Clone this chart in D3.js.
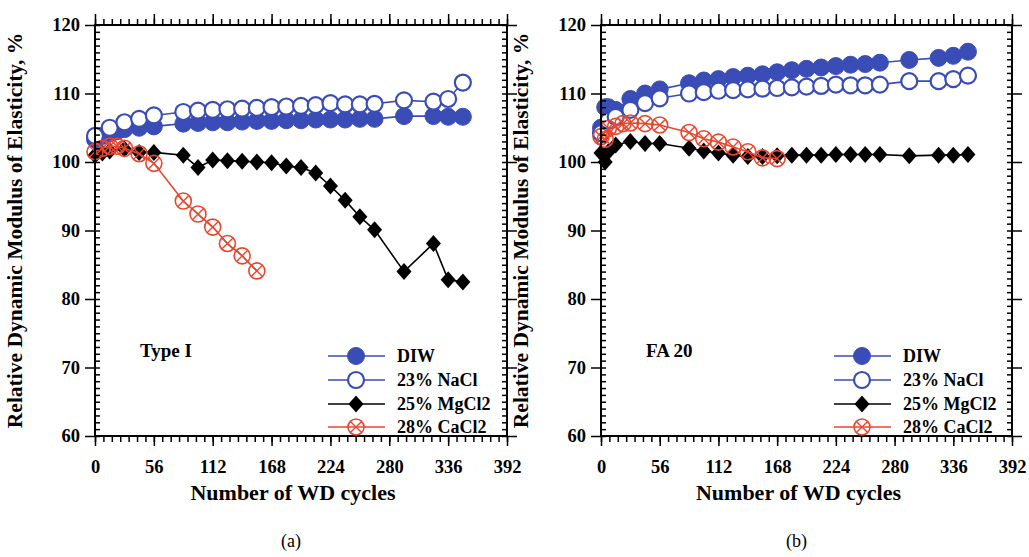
<!DOCTYPE html>
<html><head><meta charset="utf-8">
<script src="https://cdn.jsdelivr.net/npm/d3@7"></script>
<style>
body{margin:0;background:#fff;}
svg{display:block;font-family:"Liberation Serif","Times New Roman",serif;}
</style></head>
<body>
<svg id="chart" width="1029" height="557"></svg>
<script>
// ---------------- DATA ----------------
const seriesNames = ["DIW", "23% NaCl", "25% MgCl2", "28% CaCl2"];
const xMajorTicks = [0, 56, 112, 168, 224, 280, 336, 392];
const yMajorTicks = [60, 70, 80, 90, 100, 110, 120];
const panelTitles = ["Type I", "FA 20"];
const panelLabels = ["(a)", "(b)"];

// Panel (a) Type I
const a_DIW_x = [0,7,14,21,28,42,56,84,98,112,126,140,154,168,182,196,210,224,238,252,266,294,322,336,350];
const a_DIW_y = [103.3,103.8,104.2,104.5,104.8,105.0,105.2,105.6,105.7,105.8,105.8,105.9,106.0,106.0,106.1,106.1,106.2,106.2,106.2,106.3,106.3,106.7,106.7,106.6,106.6];
const a_NaCl_x = [0,14,28,42,56,84,98,112,126,140,154,168,182,196,210,224,238,252,266,294,322,336,350];
const a_NaCl_y = [103.8,105.0,105.8,106.3,106.8,107.3,107.5,107.6,107.7,107.8,107.9,108.0,108.1,108.2,108.3,108.6,108.4,108.4,108.5,109.0,108.8,109.2,111.6];
const a_MgCl2_x = [0,7,14,28,42,56,84,98,112,126,140,154,168,182,196,210,224,238,252,266,294,322,336,350];
const a_MgCl2_y = [101.0,101.3,101.6,101.9,101.4,101.4,101.0,99.2,100.3,100.2,100.1,100.0,99.9,99.4,99.2,98.4,96.5,94.4,92.0,90.1,84.0,88.1,82.8,82.5];
const a_CaCl2_x = [0,7,14,21,28,42,56,84,98,112,126,140,154];
const a_CaCl2_y = [101.5,102.0,102.3,102.3,102.0,101.2,99.8,94.3,92.4,90.5,88.1,86.3,84.1];

// Panel (b) FA 20
const b_DIW_x = [0,4,7,14,28,42,56,84,98,112,126,140,154,168,182,196,210,224,238,252,266,294,322,336,350];
const b_DIW_y = [105.0,108.0,108.0,107.6,109.2,110.0,110.6,111.5,111.9,112.1,112.4,112.6,112.8,113.1,113.4,113.6,113.8,114.0,114.2,114.3,114.5,114.9,115.2,115.5,116.1];
const b_NaCl_x = [0,7,14,28,42,56,84,98,112,126,140,154,168,182,196,210,224,238,252,266,294,322,336,350];
const b_NaCl_y = [104.2,106.0,106.6,107.6,108.6,109.3,110.0,110.2,110.4,110.5,110.6,110.7,110.8,110.9,111.0,111.1,111.3,111.2,111.2,111.3,111.8,111.8,112.1,112.6];
const b_MgCl2_x = [0,4,7,14,28,42,56,84,98,112,126,140,154,168,182,196,210,224,238,252,266,294,322,336,350];
const b_MgCl2_y = [101.3,100.0,101.5,102.5,103.0,102.7,102.7,102.0,101.6,101.3,101.0,100.8,100.8,100.9,101.0,101.0,101.0,101.1,101.1,101.1,101.1,100.9,101.0,101.0,101.1];
const b_CaCl2_x = [0,4,7,14,21,28,42,56,84,98,112,126,140,154,168];
const b_CaCl2_y = [103.7,103.3,104.9,105.2,105.6,105.7,105.6,105.4,104.3,103.4,102.9,102.2,101.5,100.6,100.5];

// ---------------- STYLE ----------------
const BLUE = "#3a4db6", RED = "#e8472f", BLACK = "#000";
const styles = [
  {color: BLUE, type: "filled"},
  {color: BLUE, type: "open"},
  {color: BLACK, type: "diamond"},
  {color: RED, type: "cross"}
];

const panels = [
  {left: 95, right: 507, top: 25, bottom: 436,
   data: [[a_DIW_x,a_DIW_y],[a_NaCl_x,a_NaCl_y],[a_MgCl2_x,a_MgCl2_y],[a_CaCl2_x,a_CaCl2_y]]},
  {left: 601, right: 1012, top: 25, bottom: 436,
   data: [[b_DIW_x,b_DIW_y],[b_NaCl_x,b_NaCl_y],[b_MgCl2_x,b_MgCl2_y],[b_CaCl2_x,b_CaCl2_y]]}
];

const svg = d3.select("#chart");
svg.append("rect").attr("width",1029).attr("height",557).attr("fill","#fff");

function drawMarker(g, type, color) {
  if (type === "filled") {
    g.append("circle").attr("r", 8.5).attr("fill", color).attr("stroke", color).attr("stroke-width", 1);
  } else if (type === "open") {
    g.append("circle").attr("r", 8).attr("fill", "#fff").attr("stroke", color).attr("stroke-width", 2.2);
  } else if (type === "diamond") {
    g.append("path").attr("d", "M0,-8.5L7.5,0L0,8.5L-7.5,0Z").attr("fill", color);
  } else {
    g.append("circle").attr("r", 8).attr("fill", "none").attr("stroke", color).attr("stroke-width", 1.6);
    g.append("path").attr("d", "M-5.6,-5.6L5.6,5.6M-5.6,5.6L5.6,-5.6").attr("stroke", color).attr("stroke-width", 1.4);
  }
}

panels.forEach((p, pi) => {
  const x = d3.scaleLinear().domain([0, 392]).range([p.left, p.right]);
  const y = d3.scaleLinear().domain([60, 120]).range([p.bottom, p.top]);
  const g = svg.append("g");

  // series
  p.data.forEach((s, si) => {
    const st = styles[si];
    const pts = s[0].map((c, i) => [c, s[1][i]]);
    const line = d3.line().x(d => x(d[0])).y(d => y(d[1]));
    g.append("path").attr("d", line(pts)).attr("fill", "none")
      .attr("stroke", st.color).attr("stroke-width", 1.6);
    pts.forEach(d => {
      const m = g.append("g").attr("transform", `translate(${x(d[0])},${y(d[1])})`);
      drawMarker(m, st.type, st.color);
    });
  });

  // axes
  const xMinor = d3.range(0, 393, 8);
  const yMinor = d3.range(60, 121, 1);
  const styleAxis = sel => {
    sel.select(".domain").remove();
    sel.selectAll(".tick line").attr("stroke", "#000").attr("stroke-width", 1.5);
    sel.selectAll(".tick text")
      .style("font-family", "'Liberation Serif', serif")
      .style("font-weight", "bold").style("font-size", "18.5px").style("fill", "#000");
  };
  g.append("g").attr("transform", `translate(0,${p.bottom})`)
    .call(d3.axisBottom(x).tickValues(xMinor).tickSize(6).tickFormat("")).call(styleAxis);
  g.append("g").attr("transform", `translate(0,${p.bottom})`)
    .call(d3.axisBottom(x).tickValues(xMajorTicks).tickSize(10).tickPadding(14).tickFormat(d3.format("d"))).call(styleAxis);
  g.append("g").attr("transform", `translate(0,${p.top})`)
    .call(d3.axisTop(x).tickValues(xMinor).tickSize(6).tickFormat("")).call(styleAxis);
  g.append("g").attr("transform", `translate(0,${p.top})`)
    .call(d3.axisTop(x).tickValues(xMajorTicks).tickSize(11).tickFormat("")).call(styleAxis);

  g.append("g").attr("transform", `translate(${p.left},0)`)
    .call(d3.axisRight(y).tickValues(yMinor).tickSize(5).tickFormat("")).call(styleAxis);
  g.append("g").attr("transform", `translate(${p.left},0)`)
    .call(d3.axisLeft(y).tickValues(yMajorTicks).tickSize(10).tickPadding(5).tickFormat(d3.format("d"))).call(styleAxis);
  g.append("g").attr("transform", `translate(${p.right},0)`)
    .call(d3.axisLeft(y).tickValues(yMinor).tickSize(5).tickFormat("")).call(styleAxis);
  g.append("g").attr("transform", `translate(${p.right},0)`)
    .call(d3.axisRight(y).tickValues(yMajorTicks).tickSize(10).tickFormat("")).call(styleAxis);

  g.append("rect").attr("x", p.left).attr("y", p.top)
    .attr("width", p.right - p.left).attr("height", p.bottom - p.top)
    .attr("fill", "none").attr("stroke", "#000").attr("stroke-width", 2);

  // titles
  const cx = (p.left + p.right) / 2;
  g.append("text").attr("x", cx - 8).attr("y", 500).attr("text-anchor", "middle")
    .attr("font-weight", "bold").attr("font-size", 22).text("Number of WD cycles");
  g.append("text").attr("transform", `translate(${p.left - 73},${(p.top + p.bottom) / 2}) rotate(-90)`)
    .attr("text-anchor", "middle").attr("font-weight", "bold").attr("font-size", 21.5)
    .text("Relative Dynamic Modulus of Elasticity, %");
  g.append("text").attr("x", cx - 10).attr("y", 547).attr("text-anchor", "middle")
    .attr("font-size", 18).text(panelLabels[pi]);
  g.append("text").attr("x", p.left + 45).attr("y", 357)
    .attr("font-weight", "bold").attr("font-size", 19).text(panelTitles[pi]);

  // legend
  const rowsY = [356, 380, 404, 427];
  seriesNames.forEach((name, si) => {
    const st = styles[si];
    const ly = rowsY[si];
    g.append("line").attr("x1", p.left + 233).attr("x2", p.left + 290)
      .attr("y1", ly).attr("y2", ly).attr("stroke", st.color).attr("stroke-width", 1.6);
    const m = g.append("g").attr("transform", `translate(${p.left + 261},${ly})`);
    drawMarker(m, st.type, st.color);
    g.append("text").attr("x", p.left + 302).attr("y", ly + 6)
      .attr("font-weight", "bold").attr("font-size", 18).text(name);
  });
});
</script>
</body></html>
